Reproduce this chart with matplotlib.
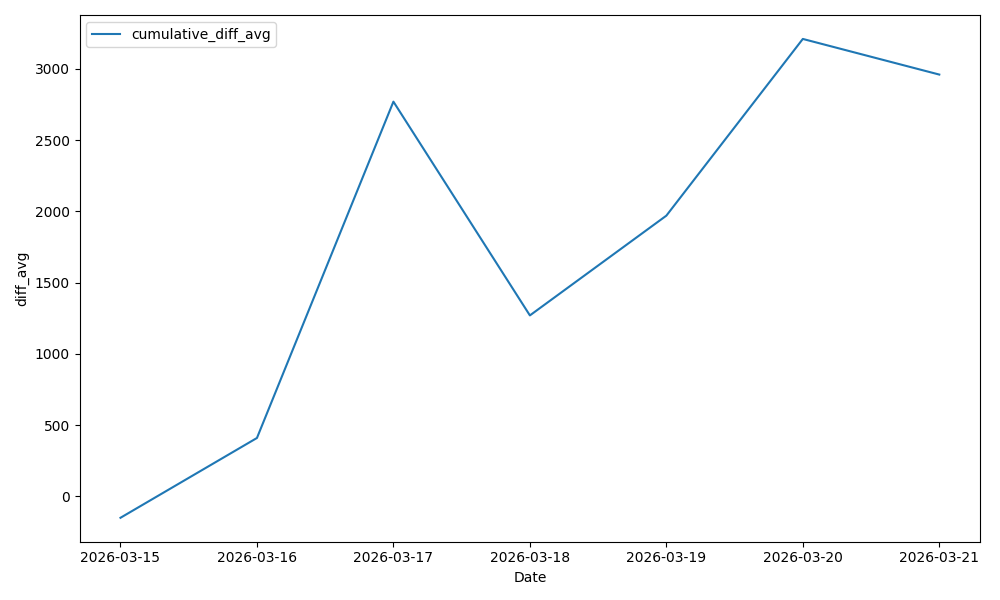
import matplotlib
matplotlib.use("Agg")
import matplotlib.pyplot as plt
import pandas as pd

dates = ["2026-03-15", "2026-03-16", "2026-03-17", "2026-03-18",
         "2026-03-19", "2026-03-20", "2026-03-21"]
cumulative_diff_avg = [-150, 410, 2770, 1270, 1970, 3210, 2960]

fig, ax = plt.subplots(figsize=(10, 6), dpi=100)
ax.plot(dates, cumulative_diff_avg, label="cumulative_diff_avg")
ax.set_xlabel("Date")
ax.set_ylabel("diff_avg")
ax.legend(loc="upper left")
fig.tight_layout()
fig.savefig("out.png")
